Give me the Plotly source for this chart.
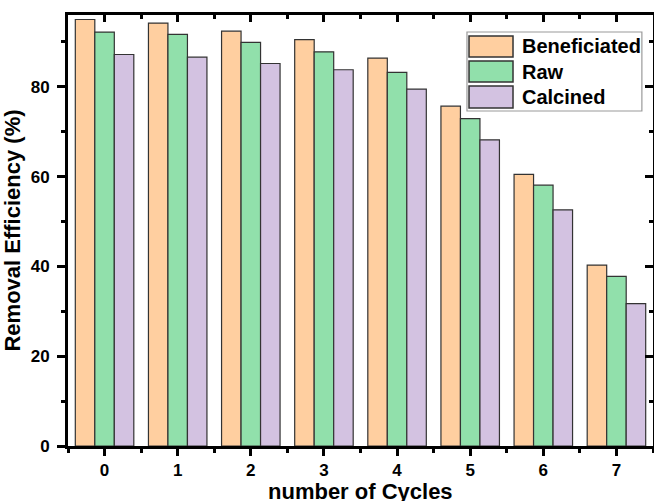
import plotly.graph_objects as go

# Data: removal efficiency (%) over reuse cycles for three adsorbent types
cycles = [0, 1, 2, 3, 4, 5, 6, 7]
series_names = ["Beneficiated", "Raw", "Calcined"]
beneficiated = [95.0, 94.2, 92.4, 90.5, 86.4, 75.7, 60.5, 40.3]
raw = [92.2, 91.7, 89.9, 87.8, 83.2, 72.9, 58.1, 37.8]
calcined = [87.2, 86.6, 85.2, 83.8, 79.5, 68.2, 52.6, 31.7]
y_ticks = [0, 20, 40, 60, 80]
x_title = "number of Cycles"
y_title = "Removal Efficiency (%)"

colors = ["#FFCFA0", "#91E0AB", "#D3C2E1"]
edge = "#333333"
FONT = "Liberation Sans, Arial, sans-serif"

fig = go.Figure()
for name, vals, col in zip(series_names, [beneficiated, raw, calcined], colors):
    fig.add_trace(go.Bar(
        x=cycles, y=vals, name=name,
        marker=dict(color=col, line=dict(color=edge, width=1.2)),
        showlegend=False,
    ))

# invisible trace so the top/right frame axes get drawn
fig.add_trace(go.Scatter(
    x=cycles, y=beneficiated, xaxis="x2", yaxis="y2", mode="markers",
    marker=dict(opacity=0), showlegend=False, hoverinfo="skip",
))

XR = [-0.5, 7.5]
YR = [0, 96]

fig.update_layout(
    width=654, height=501,
    margin=dict(l=68, r=1, t=15, b=55, autoexpand=False),
    paper_bgcolor="white", plot_bgcolor="white",
    barmode="group", bargap=0.2, bargroupgap=0,
    font=dict(family=FONT, color="black"),
    xaxis=dict(
        range=XR, tickvals=cycles, ticktext=[str(c) for c in cycles],
        automargin=False,
        ticks="outside", ticklen=7, tickwidth=3, tickcolor="black",
        showline=True, linewidth=3, linecolor="black",
        showgrid=False, zeroline=False,
        tickfont=dict(family=FONT, size=17, color="black", weight="bold"),
        minor=dict(tickvals=[c + 0.5 for c in [-1] + cycles], ticks="outside",
                   ticklen=4, tickwidth=2.5, tickcolor="black"),
    ),
    yaxis=dict(
        range=YR, tickvals=y_ticks,
        automargin=False,
        ticks="outside", ticklen=8, tickwidth=3, tickcolor="black",
        showline=True, linewidth=3, linecolor="black",
        showgrid=False, zeroline=False,
        tickfont=dict(family=FONT, size=17, color="black", weight="bold"),
        ticklabelstandoff=4,
        minor=dict(dtick=10, tick0=0, ticks="outside",
                   ticklen=4, tickwidth=2.5, tickcolor="black"),
        title=dict(text=y_title, standoff=8,
                   font=dict(family=FONT, size=22, color="black", weight="bold")),
    ),
    xaxis2=dict(
        range=XR, overlaying="x", side="top", anchor="y",
        automargin=False,
        tickvals=cycles, showticklabels=False,
        ticks="inside", ticklen=7, tickwidth=3, tickcolor="black",
        showline=True, linewidth=3, linecolor="black",
        showgrid=False, zeroline=False,
        minor=dict(tickvals=[c + 0.5 for c in [-1] + cycles], ticks="inside",
                   ticklen=4, tickwidth=2.5, tickcolor="black"),
    ),
    yaxis2=dict(
        range=YR, overlaying="y", side="right", anchor="x",
        automargin=False,
        tickvals=y_ticks, showticklabels=False,
        ticks="inside", ticklen=8, tickwidth=3, tickcolor="black",
        showline=True, linewidth=3, linecolor="black",
        showgrid=False, zeroline=False,
        minor=dict(dtick=10, tick0=0, ticks="inside",
                   ticklen=4, tickwidth=2.5, tickcolor="black"),
    ),
)

# x-axis title sits low, near the bottom edge of the page
fig.add_annotation(xref="paper", yref="paper", x=0.5, y=-0.071,
                   text=x_title, showarrow=False, xanchor="center", yanchor="top",
                   font=dict(family=FONT, size=22, color="black", weight="bold"))

# Legend drawn as a framed box with large swatches
fig.add_shape(type="rect", xref="paper", yref="paper",
              x0=0.682, x1=0.981, y0=0.7773, y1=0.9606,
              line=dict(color="#9a9a9a", width=1.2), fillcolor="white", layer="above")
row_bounds = [(0.9513, 0.9026), (0.8933, 0.8445), (0.8353, 0.7842)]
for name, col, (ytop, ybot) in zip(series_names, colors, row_bounds):
    fig.add_shape(type="rect", xref="paper", yref="paper",
                  x0=0.6855, x1=0.7607, y0=ybot, y1=ytop,
                  line=dict(color=edge, width=1.5), fillcolor=col, layer="above")
    fig.add_annotation(xref="paper", yref="paper", x=0.7726, y=(ytop + ybot) / 2,
                       text=name, showarrow=False, xanchor="left", yanchor="middle",
                       font=dict(family=FONT, size=20, color="black", weight="bold"))

fig.write_html("out.html")
